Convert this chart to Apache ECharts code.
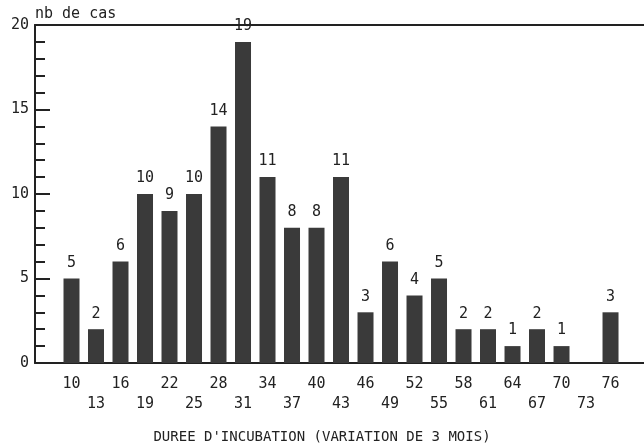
<!DOCTYPE html>
<html>
<head>
<meta charset="utf-8">
<script src="https://cdn.jsdelivr.net/npm/echarts@6/dist/echarts.min.js"></script>
<style>html,body{margin:0;padding:0;background:#fff}#c{width:644px;height:445px}</style>
</head>
<body>
<div id="c"></div>
<script>
var categories = [10,13,16,19,22,25,28,31,34,37,40,43,46,49,52,55,58,61,64,67,70,73,76];
var cases = [5,2,6,10,9,10,14,19,11,8,8,11,3,6,4,5,2,2,1,2,1,0,3];
var yTicks = [0,5,10,15,20];
var xTitle = "DUREE D'INCUBATION (VARIATION DE 3 MOIS)";
var yTitle = "nb de cas";

var FONT = '"DejaVu Sans Mono", monospace';
var INK = '#222';
var chart = echarts.init(document.getElementById('c'));
chart.setOption({
  backgroundColor: '#fff',
  animation: false,
  title: {
    text: xTitle,
    left: 'center',
    top: 425,
    textStyle: { fontFamily: FONT, fontSize: 14, fontWeight: 'normal', color: INK }
  },
  grid: { left: 35, top: 25, bottom: 82, right: 0 },
  xAxis: [{
    type: 'value',
    min: 5.53, max: 80.1,
    splitLine: { show: false },
    axisTick: { show: false },
    axisLine: { show: true, lineStyle: { color: INK, width: 2 } },
    axisLabel: {
      customValues: categories,
      color: INK, fontFamily: FONT, fontSize: 15, lineHeight: 20, margin: 11,
      formatter: function (v) {
        var i = categories.indexOf(Math.round(v));
        return (i % 2 === 1) ? '\n' + v : String(v);
      }
    }
  }, {
    type: 'value', position: 'top',
    min: 5.53, max: 80.1,
    splitLine: { show: false },
    axisTick: { show: false },
    axisLabel: { show: false },
    axisLine: { show: true, lineStyle: { color: INK, width: 2 } }
  }],
  yAxis: {
    type: 'value',
    min: yTicks[0], max: yTicks[yTicks.length - 1], interval: 5,
    name: yTitle, nameLocation: 'end', nameGap: 3,
    nameTextStyle: { fontFamily: FONT, fontSize: 15, color: INK, align: 'left' },
    splitLine: { show: false },
    axisLine: { show: true, lineStyle: { color: INK, width: 2 } },
    axisTick: { show: true, inside: true, length: 15, lineStyle: { color: INK, width: 2 } },
    minorTick: { show: true, splitNumber: 5, length: 10, lineStyle: { color: INK, width: 2 } },
    axisLabel: { color: INK, fontFamily: FONT, fontSize: 15, margin: 6 }
  },
  series: [{
    type: 'bar',
    xAxisIndex: 0,
    barWidth: 16,
    data: categories.map(function (c, i) { return [c, cases[i]]; }),
    itemStyle: { color: '#3a3a3a' },
    label: {
      show: true, position: 'top', distance: 8,
      color: INK, fontFamily: FONT, fontSize: 15,
      formatter: function (p) { return p.value[1] ? String(p.value[1]) : ''; }
    }
  }]
});
</script>
</body>
</html>
